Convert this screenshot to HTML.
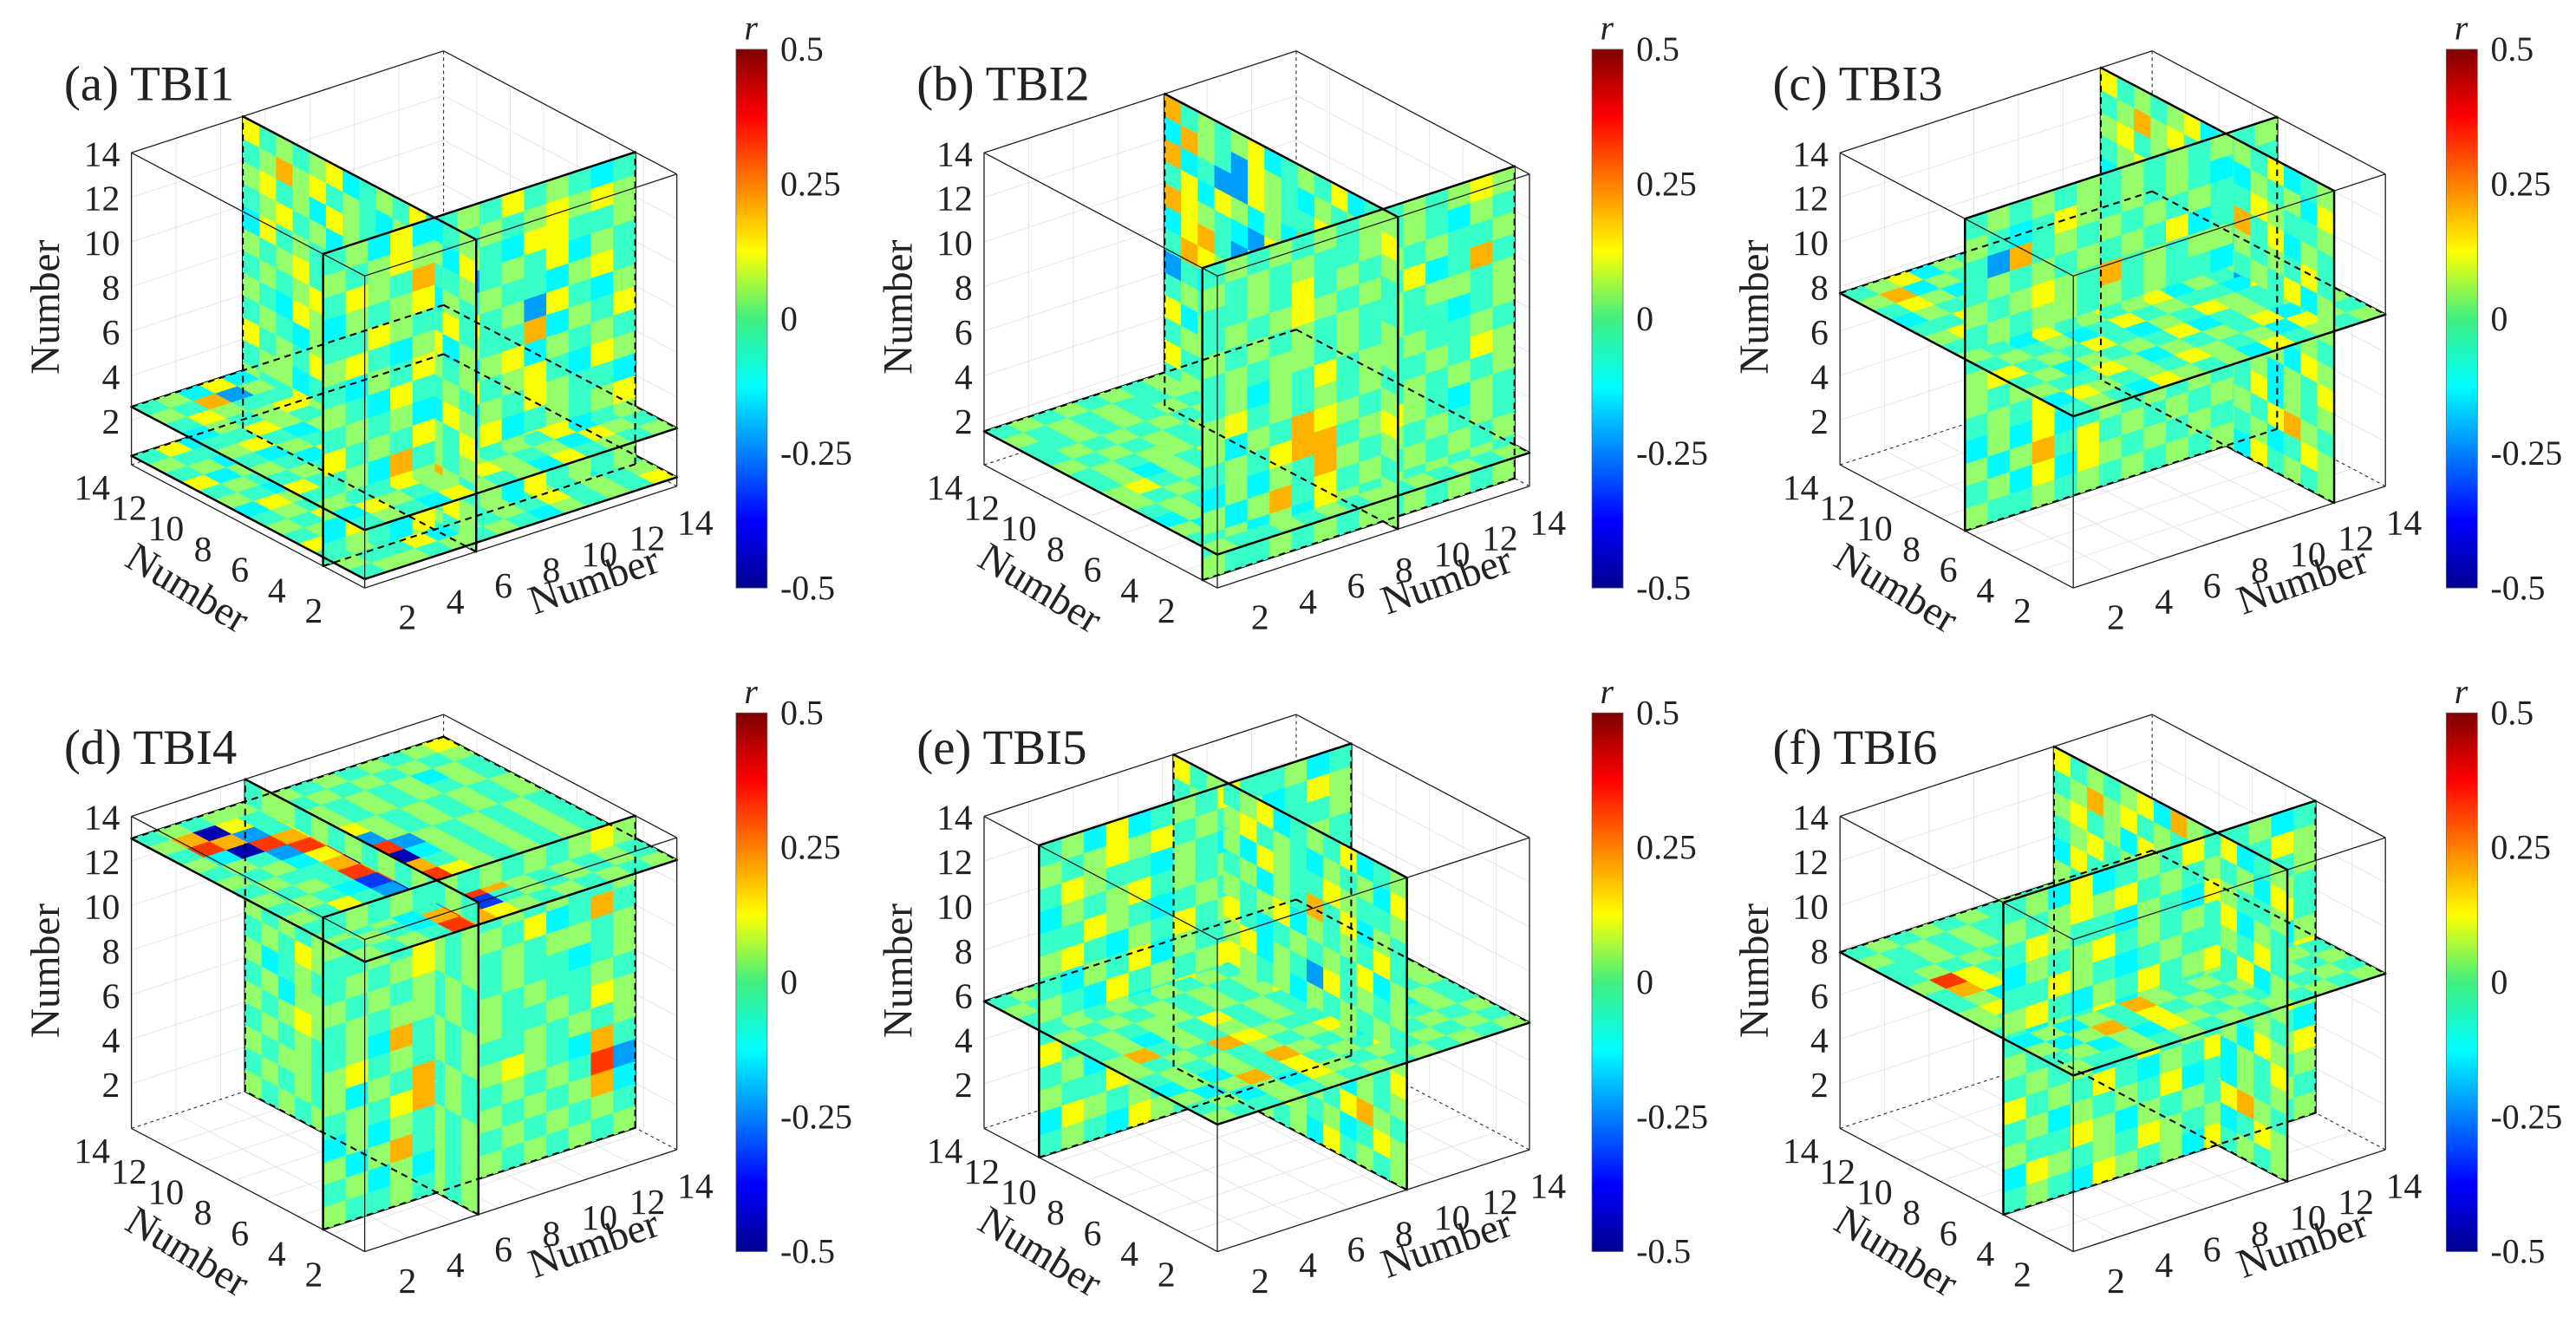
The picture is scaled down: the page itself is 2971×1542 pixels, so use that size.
<!DOCTYPE html>
<html><head><meta charset="utf-8"><style>
html,body{margin:0;padding:0;background:#fff;}
svg{display:block;}
text{font-family:"Liberation Serif",serif;fill:#222;}
</style></head><body>
<svg id="fig" xmlns="http://www.w3.org/2000/svg" width="2971" height="1542" viewBox="0 0 1568 814" preserveAspectRatio="none" font-family="'Liberation Serif', serif">
<defs>
<linearGradient id="jet" x1="0" y1="1" x2="0" y2="0">
<stop offset="0" stop-color="#00008f"/><stop offset="0.125" stop-color="#0000ff"/><stop offset="0.375" stop-color="#00ffff"/><stop offset="0.5" stop-color="#40f080"/><stop offset="0.625" stop-color="#ffff00"/><stop offset="0.875" stop-color="#ff0000"/><stop offset="1" stop-color="#800000"/>
</linearGradient>
</defs>
</svg>
<script>
// ---- data ----
const panelTitles = ["(a) TBI1","(b) TBI2","(c) TBI3","(d) TBI4","(e) TBI5","(f) TBI6"];
const sliceAxes = [["c","c","b","a"],["c","b","a"],["c","a","b"],["c","b","a"],["c","b","a"],["c","b","a"]];
const slicePos = [[2.6,0.4,5,2.5],[1.5,8.1,0.9],[7.7,6.5,11.7],[13,5.1,2.5],[5.7,8.5,10.7],[7.9,9.6,4.2]];
const codeValues = [-0.45,-0.32,-0.22,-0.13,-0.07,0.02,0.12,0.2,0.32,0.42];
const cbTicks = [0.5,0.25,0,-0.25,-0.5];
const axisTicks = [2,4,6,8,10,12,14];
const sliceData = [
[ // a
["45363454644534","54725645453465","46544354365445","35456454546354","44654345443564","56435464564435","43546354453546","54364545635454","45453464544365","64546435465443","45354546345456","54465354546345","36545465453654","45436545364545"],
["46354543654454","54465354445364","45356453544545","63545465354454","45454545634546","54365454545354","36548745465445","45437254654536","54645463454545","45454354563454","64545463545645","45354545454354","54463545464545","45545454354546"],
["64545634546345","45756454354536","56453654465445","45645354746354","36454563545464","54564345454635","45456354264545","54365453545454","45435464545365","64546354453546","45534645463545","54465354546754","45545465453465","56434545364545"],
["45363454645434","54565645456565","46547354366445","35456424546354","44654345443564","56435464526435","43546354473546","54364535635454","45453464564365","64546435465443","45374546345456","54465354566345","36545465453674","45436545364545"]
],
[ // b
["45454545454545","54545445454354","44545454545445","45454545463454","54545454545545","45455454544345","45354645454454","56454545445465","54547654454545","45467745654354","35368754545454","53574645454545","45353654545454","54454545454545"],
["74545634546345","37542654354536","73422654465445","46365353746354","76543263545464","36742637454635","47653726545645","24367453545454","45435464545365","63546354453546","45534645463545","64465354546754","45545465453665","46434545364545"],
["45454545454565","54545445454354","44546454545445","45456545463474","54545454545545","45455454544345","45354645454454","56454545445465","53547654454545","45467745654354","35354754545454","53574645454545","45353654545454","54454545454545"]
],
[ // c
["45635454644534","57354645453465","46534354365445","35456454546354","44654345443564","56435464564435","43546354453546","54364545635454","45453464544375","64546435465443","45354546345456","54465354546345","36545465453654","45436545364545"],
["45454545454545","54346545454354","42745454545445","45454545463454","54565474545545","45455454544345","45354645454454","56454545445465","54547654454545","45464545654354","35363454545454","53574645454545","45363654545454","54454545454545"],
["64545634546345","45756454354536","56453654465445","45645354746354","36454563545464","54564345454635","45456354264545","54365453545454","45435464545365","64546354453546","45534645463545","54465354546754","45545465453465","56434545364545"]
],
[ // d
["45455454545456","57064545454545","48724654545354","53087654545454","45428765454545","54536825454545","45447082545454","54548703545454","45431874545454","54642086545454","45457087645454","54534287545454","45437814545454","54548765454545"],
["45545454545454","54354545454545","46345545454545","53354645454545","45335454545454","54545464545454","45465454545545","53454745454545","45355454545454","54565454545454","45454545454545","54554545454545","45454545454545","54545454545545"],
["45454545454565","54645445454354","44546454545445","45456545463474","54545454545545","45455454544345","45374645454454","56454545445465","53547654454545","45467745654374","35354754545482","53574645454573","45353654545454","54454545454545"]
],
[ // e
["45454545454545","54565445454354","44545454545445","45454545463454","54545454545545","45455454544345","45354645454454","57454545445465","54547654454545","45454545654354","35354754545454","53574645454545","45353654545454","54454545454545"],
["64545634546345","45756454354536","56453654465445","45645354746354","36454563545464","54564345454635","45456354264545","54365453545454","45435464545365","64546354453546","45534645463545","54465354546754","45545465453465","56434545364545"],
["45363454644534","54565645453465","46544354365445","35456454546354","44654345443564","56435464564435","43546354453546","54364545635454","45453464544365","64546435465443","45354546345456","54465354546345","36545465453654","45436545364545"]
],
[ // f
["45454545454545","54545445454354","44545452545445","45454345463454","58645454545545","47655454544345","45354645454454","56454545445465","54547654454545","45464545654354","35354754545454","53574645454545","45353654545454","54454545454545"],
["64545637546345","45756454354536","56453654465445","45645354746354","36454563545464","54564345454635","45456354264545","54365453545454","45435464545365","64546354453546","45534645463545","54465354546754","45545465453465","56434545364545"],
["45363454644534","54565645453465","46544354365445","35456454546354","44654345443564","56435464564435","43546354453546","54364545635454","45453464544365","64546435465443","45354546345456","54465354546345","36545465453654","45436545364545"]
]
];
// ---- layout ----
const NS="http://www.w3.org/2000/svg";
const svg=document.getElementById('fig');
const FONT="'Liberation Serif', serif";
const panelOX=[0,519,1040,0,519,1040];
const panelOY=[0,0,0,404,404,404];
const cbX=[448,969,1489,448,969,1489];
function mk(tag,attrs,parent){const e=document.createElementNS(NS,tag);for(const k in attrs)e.setAttribute(k,attrs[k]);if(tag==='text')e.setAttribute('font-family',FONT);(parent||svg).appendChild(e);return e;}
function jet(v){const t=Math.max(0,Math.min(1,v+0.5));const c=x=>Math.round(255*Math.max(0,Math.min(1,1.5-Math.abs(4*t-x))));return `rgb(${c(3)},${c(2)},${c(1)})`;}
function sx(v){return v/14;}
function P(a,b,c,ox,oy){return [ox+222-142*sx(a)+190*sx(b), oy+358-75*sx(a)-62*sx(b)-190*sx(c)];}
function depth(a,b,c){return -184*a-138*b+118*c;}
function pt(arr){return arr.map(p=>p[0].toFixed(2)+','+p[1].toFixed(2)).join(' ');}
function pnt(ax,pos,u,v){ if(ax==='a')return [pos,u,v]; if(ax==='b')return [u,pos,v]; return [u,v,pos];}

for(let p=0;p<6;p++){
  const ox=panelOX[p],oy=panelOY[p];
  const g=mk('g',{});
  
  
  const PP=(a,b,c)=>P(a,b,c,ox,oy);
  const grid=mk('g',{stroke:'#e4e4e4','stroke-width':0.5,fill:'none'},g);
  
  
  for(const t of axisTicks.slice(0,6)){
    [[PP(14,t,0),PP(14,t,14)],[PP(14,0,t),PP(14,14,t)],[PP(t,14,0),PP(t,14,14)],[PP(0,14,t),PP(14,14,t)],[PP(t,0,0),PP(t,14,0)],[PP(0,t,0),PP(14,t,0)]].forEach(s=>mk('line',{x1:s[0][0],y1:s[0][1],x2:s[1][0],y2:s[1][1]},grid));
  }
  const corners=[];for(const a of [0,14])for(const b of [0,14])for(const c of [0,14])corners.push([a,b,c]);
  const edges=[];
  for(let i=0;i<8;i++)for(let j=i+1;j<8;j++){const A=corners[i],B=corners[j];let d=0;for(let k=0;k<3;k++)if(A[k]!==B[k])d++;if(d===1)edges.push([A,B]);}
  const isBack=e=>e.some(q=>q[0]===14&&q[1]===14&&q[2]===0);
  edges.filter(isBack).forEach(e=>{const a=PP(...e[0]),b=PP(...e[1]);const l=mk('line',{x1:a[0],y1:a[1],x2:b[0],y2:b[1],stroke:'#333','stroke-width':0.6,'stroke-dasharray':'2,2'},g);
    
    });
  const items=[];
  const outlines=[];
  sliceAxes[p].forEach((ax,si)=>{
    const pos=slicePos[p][si]; const rows=sliceData[p][si];
    for(let r=0;r<14;r++)for(let cI=0;cI<14;cI++){
      let u0,v0;
      if(ax==='a'){u0=cI;v0=13-r;} else if(ax==='b'){u0=13-cI;v0=13-r;} else {u0=13-r;v0=cI;}
      const val=codeValues[+rows[r][cI]];
      const q=[[u0,v0],[u0+1,v0],[u0+1,v0+1],[u0,v0+1]].map(([u,v])=>PP(...pnt(ax,pos,u,v)));
      items.push({d:depth(...pnt(ax,pos,u0+0.5,v0+0.5)),type:'cell',q,val,si});
    }
    const rc=[[0,0],[14,0],[14,14],[0,14]];
    for(let k=0;k<4;k++){
      const [u1,v1]=rc[k],[u2,v2]=rc[(k+1)%4];
      outlines.push([PP(...pnt(ax,pos,u1,v1)),PP(...pnt(ax,pos,u2,v2))]);
      for(let s=0;s<14;s++){
        const ua=u1+(u2-u1)*s/14,va=v1+(v2-v1)*s/14,ub=u1+(u2-u1)*(s+1)/14,vb=v1+(v2-v1)*(s+1)/14;
        items.push({d:depth(...pnt(ax,pos,(ua+ub)/2,(va+vb)/2))+30,type:'seg',a:PP(...pnt(ax,pos,ua,va)),b:PP(...pnt(ax,pos,ub,vb))});
      }
    }
  });
  items.sort((x,y)=>x.d-y.d);
  const sg=mk('g',{},g);
  
  
  items.forEach(it=>{
    if(it.type==='cell'){const col=jet(it.val);const e=mk('polygon',{points:pt(it.q),fill:col,stroke:col,'stroke-width':0.35},sg);
      
      }
    else{const e=mk('line',{x1:it.a[0],y1:it.a[1],x2:it.b[0],y2:it.b[1],stroke:'#000','stroke-width':1.3,'stroke-linecap':'round'},sg);
      
      }
  });
  outlines.forEach(o=>{const e=mk('line',{x1:o[0][0],y1:o[0][1],x2:o[1][0],y2:o[1][1],stroke:'#000','stroke-width':1.1,'stroke-dasharray':'4,3'},g);
    
    });
  edges.filter(e=>!isBack(e)).forEach(e=>{const a=PP(...e[0]),b=PP(...e[1]);const l=mk('line',{x1:a[0],y1:a[1],x2:b[0],y2:b[1],stroke:'#222','stroke-width':0.7},g);
    
    });
  axisTicks.forEach(t=>{
    const q=PP(14,0,t);
    const e=mk('text',{x:q[0]-7,y:q[1]+8,'font-size':22,'text-anchor':'end'},g);e.textContent=t;
    
    
    const e2=mk('text',{x:ox+56+(14-t)*11.25,y:oy+304+(14-t)*6.25,'font-size':22,'text-anchor':'middle'},g);e2.textContent=t;
    
    
    const e3=mk('text',{x:ox+248+(t-2)*14.6,y:oy+383-(t-2)*4.8,'font-size':22,'text-anchor':'middle'},g);e3.textContent=t;
    
    
  });
  const t1=mk('text',{x:0,y:0,'font-size':25,'text-anchor':'middle',transform:`translate(${ox+36},${oy+187}) rotate(-90)`},g);t1.textContent='Number';
  
  
  const t2=mk('text',{x:0,y:0,'font-size':25,'text-anchor':'middle',transform:`translate(${ox+110},${oy+365}) rotate(31)`},g);t2.textContent='Number';
  
  
  const t3=mk('text',{x:0,y:0,'font-size':25,'text-anchor':'middle',transform:`translate(${ox+364},${oy+361}) rotate(-19)`},g);t3.textContent='Number';
  
  
  const tt=mk('text',{x:ox+39,y:oy+61,'font-size':30},g);tt.textContent=panelTitles[p];
  
  
  const cx=cbX[p], cy0=oy+30, cy1=oy+358;
  const cb=mk('rect',{x:cx,y:cy0,width:19,height:cy1-cy0,fill:'url(#jet)',stroke:'#666','stroke-width':0.4},g);
  
  
  cbTicks.forEach(v=>{const y=cy0+(0.5-v)*(cy1-cy0);const e=mk('text',{x:cx+27,y:y+7,'font-size':21},g);e.textContent=v;
    
    });
  const r=mk('text',{x:cx+5,y:cy0-6,'font-size':21,'font-style':'italic'},g);r.textContent='r';
  
  
}
</script>
</body></html>
